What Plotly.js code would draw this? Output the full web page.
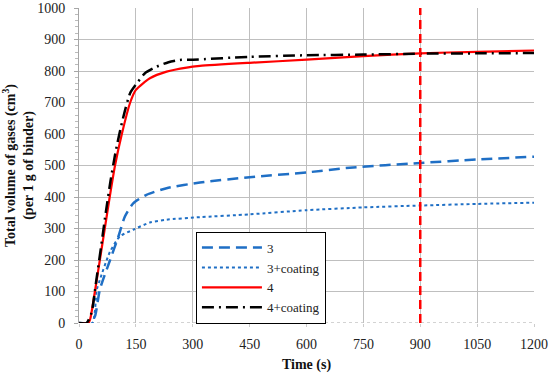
<!DOCTYPE html>
<html>
<head>
<meta charset="utf-8">
<script src="https://cdn.plot.ly/plotly-3.0.1.min.js"></script>
<style>html,body{margin:0;padding:0;background:#fff;}#chart{width:550px;height:373px;}</style>
</head>
<body>
<div id="chart"></div>
<script>
// Series: total gas volume (cm3 per 1 g of binder) vs time (s)
var t3 = [0, 30, 42, 55, 82, 104, 121, 143, 178, 231, 319, 450, 600, 714, 900, 1050, 1200];
var v3 = [0, 0, 21, 106, 200, 275, 338, 380, 407, 428, 446, 463, 478, 493, 508, 519, 528];

var t3c = [0, 35, 47, 55, 82, 108, 143, 187, 231, 319, 450, 600, 750, 900, 1050, 1200];
var v3c = [0, 0, 106, 137, 227, 275, 296, 319, 328, 336, 345, 358, 367, 373, 378, 382];

var t4 = [0, 25, 30, 42, 55, 68, 81, 95, 113, 135, 150, 187, 231, 284, 319, 450, 600, 750, 900, 1050, 1200];
var v4 = [0, 0, 15, 100, 200, 300, 400, 500, 600, 700, 740, 777, 798, 811, 816, 826, 836, 847, 856, 861, 865];

var t4c = [0, 20, 33, 45, 58, 70, 83, 96, 114, 135, 154, 174, 205, 236, 266, 301, 450, 600, 750, 900, 1050, 1200];
var v4c = [0, 0, 32, 130, 240, 345, 450, 540, 640, 730, 763, 793, 814, 828, 835, 836, 845, 850, 852, 855, 856, 857];

var seriesNames = ['3', '3+coating', '4', '4+coating'];
var markerTime = 900;
var xTicks = [0, 150, 300, 450, 600, 750, 900, 1050, 1200];
var yTicks = [0, 100, 200, 300, 400, 500, 600, 700, 800, 900, 1000];

var serif = 'Liberation Serif';
var blue = '#1f6fc5';

var traces = [
  {x: t3, y: v3, name: seriesNames[0], mode: 'lines', line: {color: blue, width: 2.5, dash: '11px,6px', shape: 'spline', smoothing: 0.6}},
  {x: t3c, y: v3c, name: seriesNames[1], mode: 'lines', line: {color: blue, width: 2, dash: 'dot', shape: 'spline', smoothing: 0.6}},
  {x: t4, y: v4, name: seriesNames[2], mode: 'lines', line: {color: '#ff0000', width: 2.2, shape: 'spline', smoothing: 0.6}},
  {x: t4c, y: v4c, name: seriesNames[3], mode: 'lines', line: {color: '#000000', width: 2.5, dash: '12px,5px,2px,5px', shape: 'spline', smoothing: 0.6}}
];

var layout = {
  width: 550, height: 373,
  margin: {l: 79, r: 16, t: 8, b: 50},
  paper_bgcolor: '#fff', plot_bgcolor: '#fff',
  font: {family: serif, size: 14, color: '#222'},
  showlegend: true,
  legend: {
    x: 0.257, y: 0.29, xanchor: 'left', yanchor: 'top',
    bordercolor: '#000', borderwidth: 1, bgcolor: '#fff',
    font: {family: serif, size: 13, color: '#222'},
    itemwidth: 60, tracegroupgap: 0
  },
  xaxis: {
    range: [0, 1200], tickvals: xTicks, ticktext: xTicks.map(String),
    showgrid: true, gridcolor: '#bfbfbf', gridwidth: 1,
    zeroline: false, showline: false, ticklabeloverflow: 'allow',
    ticks: 'outside', ticklen: 3, tickcolor: '#cccccc', ticklabelstandoff: 5,
    tickfont: {family: serif, size: 14, color: '#222'},
    title: {text: '<b>Time (s)</b>', font: {family: serif, size: 14, color: '#111'}, standoff: 11}
  },
  yaxis: {
    range: [0, 1000], tickvals: yTicks, ticktext: yTicks.map(String),
    showgrid: true, gridcolor: '#bfbfbf', gridwidth: 1,
    zeroline: false, showline: true, linecolor: '#a6a6a6', linewidth: 1,
    ticks: 'outside', ticklen: 4, tickcolor: '#a6a6a6', ticklabelstandoff: 6,
    minor: {dtick: 20, ticks: 'outside', ticklen: 3, tickcolor: '#bbbbbb', showgrid: false},
    tickfont: {family: serif, size: 14, color: '#222'},
    title: {text: '<b>Total volume of gases (cm<sup>3</sup>)<br>(per 1 g of binder)</b>', font: {family: serif, size: 14, color: '#111'}, standoff: 4}
  },
  shapes: [
    {type: 'line', xref: 'x', yref: 'y', x0: 0, x1: 1200, y0: 0, y1: 0, line: {color: '#a6a6a6', width: 1, dash: 'dot'}, layer: 'below'},
    {type: 'line', xref: 'x', yref: 'y', x0: markerTime, x1: markerTime, y0: 0, y1: 1000, line: {color: '#ff0000', width: 2.5, dash: '9px,5px'}}
  ]
};

Plotly.newPlot('chart', traces, layout, {displayModeBar: false, staticPlot: true});
</script>
</body>
</html>
